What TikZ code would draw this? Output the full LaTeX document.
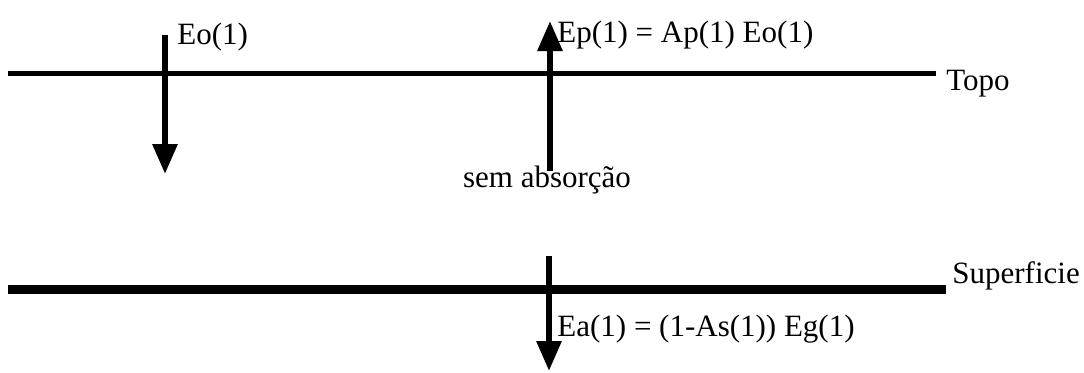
\documentclass[tikz,border=0pt]{standalone}
\usepackage{fontspec}
\setmainfont{Liberation Serif}
\usetikzlibrary{arrows.meta}
\begin{document}
\begin{tikzpicture}[x=0.5pt,y=-0.5pt,
  lbl/.style={inner sep=0pt,anchor=base west,font=\fontsize{15.5}{18}\selectfont},
  layer/.style={line width=2.5pt},
  ground/.style={line width=4.5pt},
  flux/.style={line width=3pt,-{Triangle[width=12pt,length=15pt]}}]
\useasboundingbox (0,0) rectangle (1084,372);
% lines
\coordinate (t1) at (8,73);
\coordinate (t2) at (936,73);
\draw[layer] (t1) -- (t2);
\coordinate (s1) at (8,289);
\coordinate (s2) at (946,289);
\draw[ground] (s1) -- (s2);
% labels
\node[lbl] (topo) at (946,90) {Topo};
\node[lbl] (sup) at (952,283) {Superficie};
\node[lbl] (eo) at (177,44) {Eo(1)};
\node[lbl] (ep) at (557,42) {Ep(1) = Ap(1) Eo(1)};
\node[lbl,anchor=base] (sem) at (547,187) {sem absorção};
\node[lbl] (ea) at (557,336) {Ea(1) = (1-As(1)) Eg(1)};
% arrows
\coordinate (a1s) at (165,35);
\coordinate (a1e) at (165,174);
\draw[flux] (a1s) -- (a1e);
\coordinate (a2s) at (550,171);
\coordinate (a2e) at (550,21);
\draw[flux] (a2s) -- (a2e);
\coordinate (a3s) at (549,256);
\coordinate (a3e) at (549,371);
\draw[flux] (a3s) -- (a3e);
\end{tikzpicture}
\end{document}
